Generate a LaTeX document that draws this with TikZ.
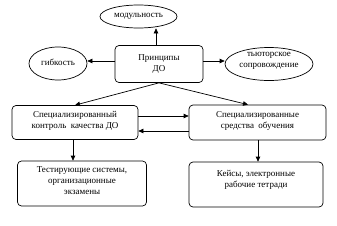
\documentclass[tikz,border=0pt]{standalone}
\usepackage{fontspec}
\setmainfont{Liberation Serif}
\usetikzlibrary{shapes.geometric,arrows.meta}
\begin{document}
\begin{tikzpicture}[x=1pt,y=-1pt,
  font=\fontsize{9}{11}\selectfont,
  box/.style={draw,line width=0.7pt,rounded corners=4pt,inner sep=0pt},
  oval/.style={draw,line width=0.7pt,ellipse,inner sep=0pt},
  txt/.style={align=center,inner sep=0pt},
  arr/.style={line width=0.7pt,-{Triangle[length=5pt,width=4.5pt]}}]
\useasboundingbox (0,0) rectangle (337,225);
\node[oval,minimum width=77pt,minimum height=23pt] (mod) at (138.5,16.5) {};
\node[txt] (modt) at (mod.center) {модульность};
\node[box,minimum width=88pt,minimum height=37pt] (pr) at (159,64) {};
\node[txt] (prt) at (pr.center) {Принципы\\ДО};
\node[oval,minimum width=58pt,minimum height=33pt] (gib) at (58,63.5) {};
\node[txt] (gibt) at ([yshift=1pt]gib.center) {гибкость};
\node[oval,minimum width=88pt,minimum height=33pt] (tut) at (269,64) {};
\node[txt] (tutt) at ([yshift=3pt]tut.center) {тьюторское\\сопровождение};
\node[box,minimum width=126pt,minimum height=34pt] (kon) at (75,122.5) {};
\node[txt] (kont) at ([yshift=2pt]kon.center) {Специализированный\\контроль\ \ качества ДО};
\node[box,minimum width=137pt,minimum height=35pt] (sr) at (257.5,122.5) {};
\node[txt] (srt) at ([yshift=1.5pt]sr.center) {Специализированные\\средства\ \ обучения};
\node[box,minimum width=129pt,minimum height=45pt] (test) at (82,183.5) {};
\node[txt] (testt) at ([yshift=2.5pt]test.center) {Тестирующие системы,\\организационные\\экзамены};
\node[box,minimum width=134pt,minimum height=45pt] (kej) at (256,184.5) {};
\node[txt] (kejt) at ([yshift=5pt]kej.center) {Кейсы, электронные\\рабочие тетради};
\draw[arr] (pr.north -| 156,0) -- (mod.south -| 156,0);
\draw[arr] (pr.west |- 0,61) -- (gib.east |- 0,61);
\draw[arr] (pr.east |- 0,61) -- (tut.west |- 0,61);
\draw[arr] (pr.south) -- (kon.north);
\draw[arr] (pr.south) -- (sr.north -| 248,0);
\draw[arr] (kon.east |- 0,116) -- (sr.west |- 0,116);
\draw[arr] (sr.west |- 0,131) -- (kon.east |- 0,131);
\draw[arr] (kon.south -| 73,0) -- (test.north -| 73,0);
\draw[arr] (sr.south -| 258,0) -- (kej.north -| 258,0);
\end{tikzpicture}
\end{document}
